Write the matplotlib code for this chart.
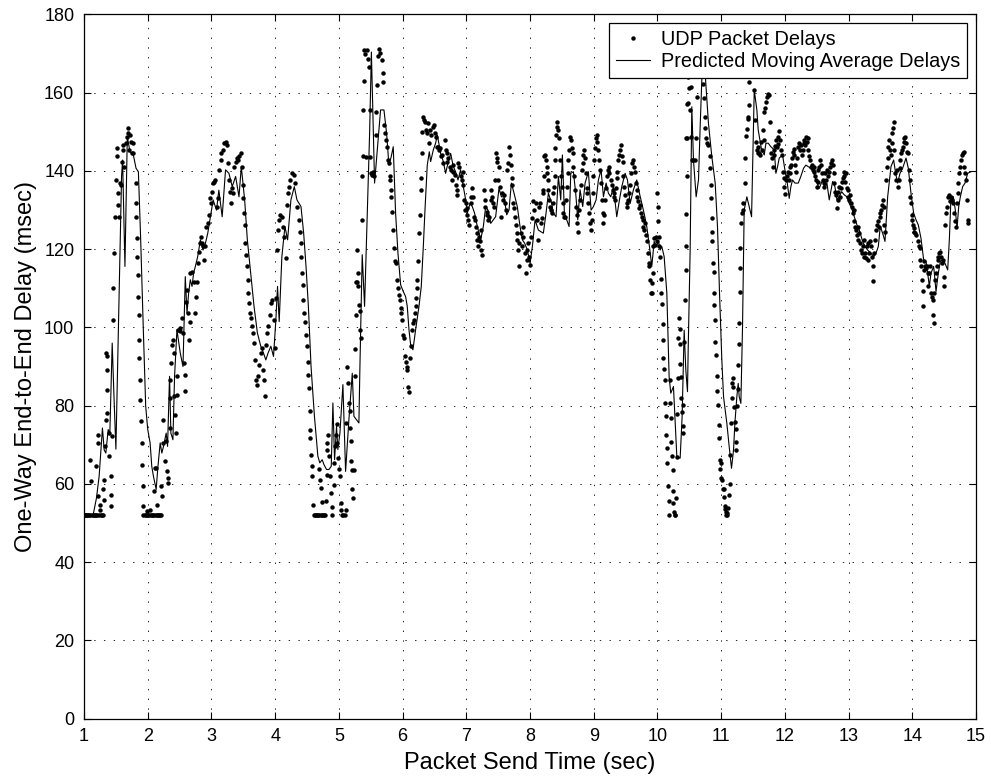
import numpy as np
import matplotlib.pyplot as plt

# one-way delay of each UDP packet (send time in s, delay in ms), in time order
pkt_t1 = [1.000, 1.012, 1.025, 1.037, 1.050, 1.062, 1.075, 1.087, 1.100, 1.116,
          1.130, 1.142, 1.155, 1.167, 1.180, 1.195, 1.205, 1.221, 1.221, 1.221,
          1.230, 1.247, 1.258, 1.265, 1.280, 1.290, 1.300, 1.311, 1.311, 1.326,
          1.342, 1.347, 1.353, 1.353, 1.358, 1.363, 1.395, 1.395, 1.416, 1.416,
          1.421, 1.432, 1.458, 1.458, 1.474, 1.484, 1.500, 1.511, 1.511, 1.526,
          1.537, 1.553, 1.563, 1.574, 1.589, 1.605, 1.616, 1.626, 1.658, 1.668,
          1.695, 1.695, 1.710, 1.720, 1.732, 1.747, 1.774, 1.774, 1.810, 1.816,
          1.816, 1.837, 1.837, 1.842, 1.853, 1.858, 1.863, 1.868, 1.879, 1.884,
          1.895, 1.905, 1.916, 1.921, 1.921, 1.930, 1.950, 1.970, 1.984, 1.995,
          2.010, 2.025, 2.037, 2.050, 2.065, 2.080, 2.100, 2.105, 2.116, 2.125,
          2.132, 2.140, 2.153, 2.165, 2.180, 2.195, 2.211, 2.215, 2.221]
pkt_d1 = [52, 52, 52, 52, 52, 52, 52, 52, 66.2, 60.7,
          52, 52, 52, 52, 52, 64.5, 52, 72.6, 70.5, 56.9,
          52, 54.7, 53.4, 52, 52, 52, 58.6, 61.1, 56.0, 69.6,
          76.4, 93.5, 78.1, 84.1, 92.6, 89.2, 73.0, 67.1, 62.0, 57.3,
          54.3, 72.2, 102.0, 110.0, 119.0, 128.3, 137.7, 143.7, 145.8, 134.3,
          131.3, 128.3, 136.9, 136.4, 142.4, 145.4, 146.6, 141.1, 147.1, 148.8,
          150.9, 149.6, 145.4, 149.2, 147.5, 144.5, 147.1, 144.5, 136.9, 131.7,
          128.3, 122.8, 118.1, 113.4, 107.9, 103.2, 96.9, 92.2, 86.6, 81.5,
          76.0, 70.5, 64.9, 59.4, 54.3, 52, 52, 52, 53.0, 52,
          52, 52, 53.4, 52, 52, 52, 58.1, 52, 64.1, 52,
          64.1, 52, 54.7, 52, 52, 52, 59.4, 52, 56.9]

pkt_t2 = [2.232, 2.247, 2.274, 2.289, 2.300, 2.316, 2.316, 2.342, 2.353, 2.353,
          2.368, 2.379, 2.395, 2.405, 2.416, 2.432, 2.442, 2.458, 2.458, 2.474,
          2.500, 2.510, 2.537, 2.553, 2.563, 2.589, 2.589, 2.605, 2.616, 2.626,
          2.642, 2.658, 2.668, 2.695, 2.720, 2.747, 2.763, 2.774, 2.784, 2.800,
          2.816, 2.837, 2.853, 2.868, 2.889, 2.905, 2.921, 2.942, 2.958, 2.974,
          2.995, 3.011, 3.026, 3.047, 3.063, 3.090, 3.100, 3.116, 3.142, 3.153,
          3.184, 3.195, 3.221, 3.247, 3.263, 3.274, 3.289, 3.311, 3.326, 3.342,
          3.353, 3.379, 3.395, 3.416, 3.437, 3.458, 3.474, 3.489, 3.500, 3.511,
          3.521, 3.532, 3.542, 3.558, 3.568, 3.579, 3.595, 3.605, 3.621, 3.637,
          3.658, 3.668, 3.679, 3.695, 3.711, 3.732, 3.753, 3.774, 3.795, 3.805,
          3.826, 3.847, 3.863, 3.879, 3.895, 3.911, 3.932, 3.953, 3.974, 3.995,
          4.011, 4.021, 4.037, 4.058, 4.079, 4.105, 4.126, 4.142, 4.163, 4.184,
          4.195, 4.216, 4.237, 4.268, 4.300, 4.316, 4.342, 4.368, 4.384, 4.400,
          4.411, 4.421, 4.432, 4.442, 4.458, 4.468, 4.489, 4.500, 4.510, 4.521,
          4.526, 4.542, 4.547, 4.553, 4.563, 4.574, 4.584, 4.600]
pkt_d2 = [76.4, 70.5, 65.8, 70.9, 63.2, 61.5, 60.3, 82.0, 74.3, 86.6,
          90.9, 95.6, 96.9, 93.5, 82.4, 77.7, 73.0, 87.5, 82.8, 99.4,
          99.8, 99.0, 102.4, 98.6, 90.9, 87.9, 83.7, 106.6, 109.6, 103.7,
          96.9, 101.5, 113.9, 114.3, 111.7, 103.7, 107.9, 111.7, 116.4, 119.4,
          121.5, 123.2, 121.5, 120.7, 117.3, 120.7, 125.8, 126.6, 128.8, 133.0,
          131.7, 134.7, 136.9, 137.3, 137.7, 130.9, 133.0, 140.3, 142.8, 144.5,
          145.4, 147.1, 147.5, 146.6, 142.0, 137.7, 134.7, 131.7, 135.6, 134.3,
          141.1, 142.4, 143.2, 142.8, 143.7, 144.5, 141.1, 136.4, 133.0, 129.2,
          126.2, 121.5, 118.6, 115.6, 112.2, 108.8, 106.2, 103.7, 102.4, 100.3,
          98.6, 96.0, 91.7, 86.6, 85.4, 87.5, 90.5, 93.5, 94.7, 89.2,
          86.6, 82.4, 95.6, 98.6, 100.3, 103.2, 106.2, 107.1, 102.0, 94.7,
          107.5, 119.8, 124.9, 127.5, 128.8, 128.3, 125.8, 123.2, 117.7, 131.3,
          134.3, 136.0, 137.7, 139.4, 139.0, 136.9, 130.9, 127.5, 124.5, 121.5,
          118.1, 113.9, 110.9, 107.1, 103.7, 101.5, 98.2, 95.2, 91.3, 87.9,
          84.5, 78.6, 73.9, 71.7, 67.5, 64.5, 62.0, 54.7]

pkt_t3 = [4.610, 4.625, 4.640, 4.655, 4.670, 4.686, 4.690, 4.700, 4.712, 4.720,
          4.735, 4.738, 4.750, 4.765, 4.780, 4.790, 4.806, 4.817, 4.817, 4.827,
          4.843, 4.859, 4.869, 4.885, 4.895, 4.920, 4.920, 4.932, 4.948, 4.963,
          4.974, 4.984, 5.000, 5.016, 5.026, 5.037, 5.050, 5.068, 5.089, 5.105,
          5.115, 5.131, 5.147, 5.157, 5.168, 5.173, 5.183, 5.194, 5.210, 5.210,
          5.225, 5.236, 5.246, 5.250, 5.262, 5.272, 5.278, 5.288, 5.298, 5.304,
          5.314, 5.325, 5.330, 5.340, 5.356, 5.367, 5.377, 5.382, 5.387, 5.400,
          5.414, 5.419, 5.440, 5.450, 5.466, 5.482, 5.487, 5.508, 5.524, 5.540,
          5.550, 5.576, 5.586, 5.597, 5.607, 5.623, 5.650, 5.675, 5.686, 5.690,
          5.707, 5.717, 5.733, 5.749, 5.770, 5.785, 5.801, 5.801, 5.812, 5.822,
          5.838, 5.853, 5.864, 5.880, 5.900, 5.916, 5.927, 5.942, 5.953, 5.969,
          5.980, 5.984, 6.005, 6.020, 6.037, 6.052, 6.063, 6.073, 6.084, 6.094,
          6.115, 6.126, 6.152, 6.168, 6.178, 6.194, 6.204, 6.210, 6.220, 6.230,
          6.240, 6.257, 6.267, 6.283, 6.293, 6.298, 6.309, 6.320]
pkt_d3 = [52, 52, 52, 52, 52, 63.7, 52, 61.1, 59.0, 52,
          52, 55.3, 52, 52, 52, 55.6, 62.4, 68.8, 70.5, 72.6,
          67.2, 62.1, 57.7, 54.1, 52, 59.7, 65.4, 69.6, 72.6, 75.2,
          70.5, 66.6, 63.7, 62.0, 55.2, 53.4, 52, 52, 52, 53.4,
          75.7, 90.0, 85.8, 80.7, 78.6, 74.3, 70.9, 65.8, 63.5, 58.6,
          56.4, 63.5, 87.5, 94.5, 103.2, 111.7, 119.8, 111.7, 110.5, 113.9,
          105.8, 104.1, 99.4, 97.3, 127.5, 138.7, 143.7, 155.7, 163.1, 171.0,
          169.8, 143.5, 170.8, 168.7, 166.7, 155.5, 143.5, 139.4, 139.0, 139.8,
          138.7, 149.2, 155.1, 161.9, 169.3, 171.2, 170.1, 168.3, 165.0, 162.7,
          151.7, 149.6, 147.9, 146.2, 142.8, 142.0, 138.6, 137.7, 135.1, 133.4,
          129.6, 124.9, 120.3, 116.9, 116.4, 112.2, 110.0, 108.3, 107.1, 104.9,
          103.7, 102.0, 98.1, 97.3, 92.6, 91.3, 90.0, 89.2, 84.9, 83.4,
          92.2, 95.2, 99.4, 101.1, 102.0, 103.7, 105.4, 107.5, 110.0, 112.2,
          116.9, 124.1, 128.8, 135.1, 138.1, 144.5, 150.0, 153.9]

pkt_t4 = [6.335, 6.350, 6.360, 6.377, 6.398, 6.413, 6.430, 6.450, 6.470, 6.492,
          6.508, 6.518, 6.534, 6.555, 6.570, 6.586, 6.607, 6.623, 6.640, 6.660,
          6.675, 6.690, 6.700, 6.717, 6.738, 6.754, 6.770, 6.785, 6.796, 6.817,
          6.832, 6.848, 6.859, 6.874, 6.890, 6.910, 6.927, 6.942, 6.953, 6.963,
          6.974, 6.990, 7.005, 7.016, 7.030, 7.047, 7.068, 7.078, 7.094, 7.110,
          7.120, 7.130, 7.147, 7.162, 7.173, 7.183, 7.200, 7.215, 7.225, 7.236,
          7.250, 7.277, 7.288, 7.300, 7.320, 7.330, 7.346, 7.360, 7.382, 7.393,
          7.410, 7.424, 7.435, 7.450, 7.460, 7.476, 7.487, 7.503, 7.513, 7.530,
          7.540, 7.555, 7.570, 7.592, 7.602, 7.618, 7.634, 7.654, 7.670, 7.686,
          7.696, 7.712, 7.723, 7.733, 7.749, 7.760, 7.775, 7.790, 7.800, 7.810,
          7.822, 7.832, 7.853, 7.870, 7.885, 7.895, 7.916, 7.932, 7.948, 7.958,
          7.974, 7.990, 8.000, 8.010, 8.030, 8.047, 8.063, 8.090, 8.115, 8.126,
          8.147]
pkt_d4 = [153.0, 152.6, 150.5, 149.6, 152.2, 147.1, 150.5, 149.2, 151.3, 151.7,
          149.6, 148.8, 146.2, 146.2, 145.4, 145.8, 143.7, 144.1, 142.0, 147.9,
          145.4, 144.5, 142.4, 143.2, 141.1, 140.3, 137.7, 141.5, 139.8, 139.0,
          136.4, 135.1, 133.9, 142.0, 141.1, 138.6, 137.7, 139.8, 136.4, 132.6,
          130.0, 131.7, 130.5, 128.8, 127.5, 126.2, 133.4, 131.7, 135.6, 133.4,
          128.3, 127.5, 125.8, 122.4, 124.1, 120.7, 123.2, 122.0, 124.9, 119.8,
          118.6, 135.1, 132.6, 130.9, 128.8, 129.6, 127.5, 128.3, 132.6, 135.1,
          133.4, 131.7, 130.9, 137.7, 144.5, 143.2, 142.4, 137.7, 141.1, 136.0,
          128.3, 134.3, 132.6, 133.9, 131.7, 130.0, 140.3, 142.0, 146.2, 144.1,
          141.5, 138.1, 136.4, 131.7, 130.5, 128.3, 126.2, 124.1, 122.4, 119.8,
          115.6, 121.5, 124.1, 120.7, 125.8, 123.2, 119.0, 113.9, 119.8, 117.3,
          121.5, 118.1, 116.0, 123.2, 127.9, 132.2, 130.0, 131.7, 127.5, 122.4,
          130.9]

pkt_t5 = [8.157, 8.168, 8.183, 8.199, 8.209, 8.220, 8.220, 8.236, 8.251, 8.262,
          8.272, 8.288, 8.288, 8.304, 8.314, 8.325, 8.340, 8.356, 8.366, 8.377,
          8.387, 8.393, 8.398, 8.408, 8.419, 8.430, 8.445, 8.460, 8.471, 8.487,
          8.497, 8.513, 8.524, 8.534, 8.550, 8.565, 8.576, 8.592, 8.602, 8.618,
          8.628, 8.639, 8.654, 8.670, 8.681, 8.696, 8.707, 8.723, 8.733, 8.743,
          8.760, 8.775, 8.785, 8.796, 8.812, 8.827, 8.838, 8.848, 8.864, 8.880,
          8.890, 8.900, 8.916, 8.932, 8.942, 8.953, 8.969, 8.984, 8.995, 9.005,
          9.021, 9.037, 9.047, 9.058, 9.073, 9.089, 9.100, 9.110, 9.126, 9.141,
          9.152, 9.162, 9.178, 9.194, 9.204, 9.220, 9.236, 9.246, 9.267, 9.283,
          9.298, 9.310, 9.325, 9.340, 9.350, 9.361, 9.372, 9.387, 9.403, 9.414,
          9.424, 9.440, 9.455, 9.466, 9.482, 9.497, 9.518, 9.529, 9.545, 9.560,
          9.571, 9.586, 9.602, 9.623, 9.639, 9.649, 9.665, 9.675, 9.686, 9.702,
          9.717, 9.728, 9.738, 9.754, 9.770, 9.780, 9.790, 9.806, 9.822, 9.832,
          9.848, 9.864, 9.874, 9.885, 9.895, 9.910, 9.921, 9.927, 9.937, 9.948,
          9.963, 9.980, 9.990, 10.000, 10.010, 10.016, 10.020, 10.031]
pkt_d5 = [131.7, 126.6, 127.9, 134.3, 135.2, 138.6, 143.7, 144.1, 142.8, 141.1,
          139.4, 137.7, 135.2, 132.6, 130.9, 130.0, 129.2, 131.7, 134.3, 136.0,
          138.6, 142.8, 145.8, 149.2, 152.6, 151.3, 150.5, 148.3, 142.8, 138.6,
          136.0, 131.7, 129.2, 128.3, 128.3, 132.6, 136.0, 139.4, 142.8, 145.4,
          148.8, 147.9, 145.8, 144.5, 141.1, 138.6, 135.2, 130.9, 128.8, 126.6,
          124.5, 130.0, 132.6, 136.4, 140.3, 142.0, 144.1, 145.4, 143.2, 139.4,
          135.6, 134.3, 131.7, 129.2, 126.6, 124.9, 127.5, 134.3, 138.6, 142.8,
          145.8, 148.3, 149.2, 147.5, 145.4, 142.8, 140.3, 136.9, 132.6, 129.2,
          126.6, 128.8, 132.6, 135.6, 138.6, 140.3, 141.1, 139.4, 137.7, 136.4,
          135.2, 134.3, 133.4, 132.6, 135.6, 138.1, 139.8, 142.8, 144.1, 145.4,
          146.6, 143.7, 142.4, 138.6, 136.0, 133.9, 131.7, 130.9, 132.6, 134.3,
          136.4, 139.4, 142.0, 142.8, 141.1, 139.8, 136.9, 135.2, 133.4, 132.2,
          130.5, 131.3, 129.2, 128.3, 127.5, 125.8, 124.9, 126.6, 123.7, 122.0,
          119.0, 116.5, 115.6, 112.2, 108.8, 111.3, 108.7, 113.9, 120.7, 122.8,
          121.1, 123.2, 122.0, 134.3, 130.9, 127.1, 123.2, 120.7]

pkt_t6 = [10.042, 10.052, 10.063, 10.073, 10.084, 10.089, 10.094, 10.105, 10.115, 10.120,
          10.131, 10.141, 10.147, 10.157, 10.168, 10.178, 10.183, 10.194, 10.199, 10.209,
          10.220, 10.225, 10.236, 10.240, 10.250, 10.262, 10.272, 10.283, 10.298, 10.304,
          10.314, 10.325, 10.330, 10.335, 10.346, 10.356, 10.356, 10.366, 10.377, 10.382,
          10.393, 10.398, 10.408, 10.419, 10.430, 10.445, 10.450, 10.450, 10.450, 10.460,
          10.470, 10.470, 10.480, 10.485, 10.500, 10.510, 10.520, 10.520, 10.540, 10.565,
          10.590, 10.610, 10.620, 10.710, 10.720, 10.730, 10.740, 10.750, 10.765, 10.785,
          10.800, 10.817, 10.827, 10.840, 10.840, 10.853, 10.853, 10.860, 10.870, 10.880,
          10.890, 10.890, 10.900, 10.910, 10.920, 10.942, 10.942, 10.953, 10.958, 10.969,
          10.980, 10.984, 10.995, 11.005, 11.020, 11.026, 11.037, 11.047, 11.058, 11.065,
          11.073, 11.080, 11.084, 11.090, 11.100, 11.126, 11.136, 11.140, 11.152, 11.162,
          11.168, 11.178, 11.188, 11.204, 11.215, 11.225, 11.236, 11.240, 11.246, 11.257,
          11.267, 11.272, 11.283, 11.288, 11.298, 11.300, 11.310, 11.325, 11.340, 11.350,
          11.370, 11.380, 11.390, 11.400, 11.414, 11.420, 11.430, 11.430, 11.508, 11.530]
pkt_d6 = [118.0, 112.3, 108.7, 106.1, 100.9, 96.9, 92.3, 89.4, 86.6, 80.8,
          77.4, 72.5, 69.1, 65.3, 59.5, 55.7, 52.0, 86.6, 80.6, 76.8,
          70.8, 67.2, 63.6, 58.3, 55.1, 52.9, 52.0, 52.0, 56.3, 67.0,
          77.9, 87.2, 97.2, 102.4, 99.5, 95.7, 90.6, 87.4, 82.1, 78.5,
          74.8, 72.9, 80.2, 96.3, 107.1, 114.8, 120.9, 129.0, 148.5, 138.7,
          148.3, 157.2, 157.3, 164.0, 161.3, 155.7, 161.5, 148.7, 142.8, 142.8,
          142.8, 148.3, 158.8, 166.2, 162.3, 158.6, 153.8, 150.9, 148.3, 147.1,
          146.6, 143.7, 140.7, 136.4, 133.0, 127.9, 124.5, 122.0, 116.6, 114.3,
          108.8, 105.8, 102.0, 96.4, 93.0, 87.7, 83.8, 80.2, 75.1, 71.7,
          66.1, 63.8, 65.3, 61.6, 61.0, 58.6, 56.6, 58.6, 54.4, 53.5,
          52.9, 52.0, 52.1, 52.5, 53.8, 57.2, 60.0, 67.4, 75.7, 82.0,
          85.7, 87.0, 84.9, 79.6, 75.9, 70.6, 68.7, 74.0, 79.9, 84.4,
          90.4, 95.9, 101.2, 109.1, 115.2, 120.3, 126.6, 129.2, 131.7, 130.0,
          136.9, 143.2, 148.9, 150.8, 153.4, 153.9, 162.7, 156.8, 160.7, 152.9]

pkt_t7 = [11.545, 11.560, 11.571, 11.581, 11.597, 11.613, 11.623, 11.634, 11.649, 11.665,
          11.676, 11.686, 11.702, 11.718, 11.738, 11.754, 11.770, 11.780, 11.790, 11.807,
          11.822, 11.833, 11.848, 11.859, 11.875, 11.885, 11.895, 11.911, 11.927, 11.937,
          11.948, 11.963, 11.979, 11.990, 12.000, 12.016, 12.031, 12.042, 12.058, 12.073,
          12.084, 12.094, 12.110, 12.120, 12.136, 12.147, 12.157, 12.173, 12.188, 12.200,
          12.215, 12.230, 12.250, 12.267, 12.283, 12.293, 12.304, 12.320, 12.335, 12.346,
          12.356, 12.366, 12.382, 12.398, 12.408, 12.424, 12.440, 12.450, 12.460, 12.476,
          12.492, 12.503, 12.513, 12.524, 12.540, 12.555, 12.565, 12.576, 12.592, 12.607,
          12.618, 12.634, 12.650, 12.660, 12.680, 12.696, 12.712, 12.723, 12.738, 12.754,
          12.764, 12.775, 12.790, 12.800, 12.810, 12.827, 12.838, 12.853, 12.870, 12.880,
          12.890, 12.906, 12.921, 12.932, 12.942, 12.958, 12.974, 12.984, 12.995, 13.010,
          13.026, 13.037, 13.047, 13.063, 13.079, 13.090, 13.100, 13.115, 13.131, 13.141,
          13.152, 13.168, 13.183, 13.194, 13.204, 13.220, 13.236, 13.246, 13.262, 13.277,
          13.288, 13.298, 13.309, 13.325, 13.340, 13.350, 13.360, 13.377, 13.387, 13.403,
          13.414, 13.430, 13.440, 13.455, 13.471, 13.487, 13.497, 13.508, 13.518, 13.534,
          13.550, 13.560, 13.571, 13.586, 13.597, 13.613, 13.623, 13.639, 13.654, 13.665,
          13.675, 13.686, 13.696, 13.707, 13.717, 13.728, 13.743, 13.760, 13.770, 13.785,
          13.800, 13.810, 13.822, 13.832, 13.848, 13.864, 13.874, 13.890, 13.906, 13.916,
          13.927, 13.942, 13.958, 13.969, 13.980, 13.990, 14.000, 14.010, 14.020, 14.031,
          14.047, 14.063, 14.084, 14.100, 14.115, 14.126, 14.136, 14.152, 14.162, 14.162,
          14.178, 14.188, 14.204, 14.215, 14.230, 14.240, 14.251, 14.267, 14.283, 14.293,
          14.304, 14.320, 14.330, 14.335, 14.346, 14.356, 14.372, 14.387, 14.398, 14.408,
          14.424, 14.440, 14.450, 14.460, 14.476, 14.492, 14.503, 14.513, 14.529, 14.545,
          14.555, 14.570, 14.586, 14.607, 14.623, 14.639, 14.660, 14.675, 14.690, 14.700,
          14.712, 14.723, 14.738, 14.754, 14.764, 14.775, 14.790, 14.806, 14.817, 14.827,
          14.843, 14.860, 14.869, 14.880]
pkt_d7 = [147.5, 145.4, 146.2, 144.7, 144.5, 144.1, 147.5, 145.4, 150.5, 147.9,
          155.1, 156.0, 157.7, 159.0, 159.8, 159.4, 152.6, 144.5, 143.3, 141.1,
          144.1, 145.4, 146.4, 147.9, 146.2, 146.9, 148.8, 150.1, 147.9, 145.4,
          144.1, 139.8, 138.1, 136.0, 134.1, 137.7, 138.6, 139.8, 137.7, 141.1,
          139.4, 141.5, 143.3, 144.9, 145.5, 144.1, 141.5, 139.8, 143.3, 146.2,
          147.1, 145.4, 146.6, 144.1, 145.4, 147.1, 147.9, 146.6, 148.8, 147.5,
          148.3, 145.4, 143.7, 142.8, 141.1, 141.5, 140.3, 141.1, 139.8, 138.6,
          137.7, 136.0, 137.3, 140.3, 141.1, 142.8, 141.5, 139.4, 137.7, 136.0,
          136.9, 139.4, 137.7, 140.3, 138.6, 139.8, 141.1, 142.0, 142.8, 141.5,
          139.4, 136.9, 134.7, 133.9, 130.5, 132.6, 134.7, 136.0, 133.4, 135.6,
          137.3, 138.1, 139.8, 138.6, 137.3, 139.4, 135.6, 133.4, 135.1, 132.6,
          133.9, 131.7, 130.9, 129.2, 130.0, 127.1, 125.8, 124.9, 123.7, 122.4,
          125.8, 124.1, 121.5, 119.8, 119.0, 120.7, 122.4, 118.1, 119.0, 117.7,
          120.7, 117.3, 121.5, 119.0, 122.0, 120.7, 118.1, 115.6, 111.8, 119.0,
          122.4, 124.9, 126.2, 127.1, 125.8, 128.3, 129.2, 130.0, 131.3, 132.6,
          130.9, 126.2, 124.5, 137.7, 141.1, 143.3, 146.2, 147.9, 145.4, 144.1,
          147.1, 149.6, 150.9, 152.6, 145.4, 139.4, 137.7, 140.3, 136.0, 137.7,
          140.7, 142.8, 144.5, 145.4, 146.2, 147.5, 148.3, 148.8, 147.1, 144.9,
          144.5, 140.3, 137.7, 133.4, 131.7, 128.8, 127.5, 126.2, 125.4, 124.5,
          124.1, 123.7, 122.0, 120.7, 120.3, 117.3, 115.6, 112.2, 109.2, 105.4,
          114.7, 116.9, 115.6, 115.2, 115.6, 113.9, 110.5, 113.9, 115.6, 108.8,
          107.9, 107.1, 103.2, 101.1, 108.8, 112.2, 113.9, 115.6, 117.3, 118.1,
          119.0, 119.4, 118.1, 116.4, 117.3, 113.0, 110.5, 126.2, 129.2, 130.9,
          133.4, 133.9, 132.2, 133.4, 132.6, 131.7, 129.2, 127.1, 125.8, 131.7,
          134.3, 136.9, 139.4, 141.1, 142.8, 144.1, 144.5, 144.9, 141.1, 139.4,
          137.7, 132.6, 127.5, 126.6]

# predicted moving average delay
avg_t = [1.000, 1.142, 1.195, 1.237, 1.289, 1.316, 1.342, 1.379, 1.405, 1.442,
         1.468, 1.500, 1.589, 1.605, 1.642, 1.679, 1.721, 1.774, 1.816, 1.853,
         1.889, 1.932, 1.968, 2.000, 2.037, 2.063, 2.089, 2.132, 2.158, 2.195,
         2.221, 2.247, 2.289, 2.311, 2.342, 2.363, 2.395, 2.421, 2.458, 2.510,
         2.553, 2.589, 2.616, 2.642, 2.668, 2.695, 2.720, 2.747, 2.784, 2.826,
         2.868, 2.905, 2.942, 2.984, 3.026, 3.079, 3.116, 3.168, 3.221, 3.274,
         3.326, 3.379, 3.432, 3.468, 3.521, 3.563, 3.616, 3.668, 3.721, 3.774,
         3.816, 3.853, 3.889, 3.932, 3.974, 4.011, 4.037, 4.063, 4.105, 4.153,
         4.195, 4.247, 4.300, 4.342, 4.405, 4.447, 4.484, 4.521, 4.563, 4.616,
         4.670, 4.700, 4.738, 4.764, 4.806, 4.843, 4.880, 4.906, 4.932, 4.963,
         4.984, 5.016, 5.063, 5.105, 5.157, 5.210, 5.236, 5.277, 5.314, 5.330,
         5.351, 5.366, 5.403, 5.482, 5.510, 5.560, 5.654, 5.707, 5.749, 5.785,
         5.822, 5.853, 5.890, 5.927, 5.969, 6.010, 6.047, 6.073, 6.100, 6.126,
         6.162, 6.204, 6.257, 6.293, 6.325, 6.351, 6.387, 6.419, 6.440, 6.482,
         6.518, 6.545, 6.597, 6.639, 6.675, 6.712, 6.754, 6.796, 6.832, 6.869,
         6.910, 6.953, 6.990, 7.016, 7.058, 7.094, 7.130, 7.173, 7.225, 7.267,
         7.304, 7.340, 7.382, 7.424, 7.460, 7.513, 7.550, 7.592, 7.634, 7.670,
         7.707, 7.749, 7.800, 7.843, 7.880, 7.916, 7.958, 8.000, 8.037, 8.079,
         8.131, 8.168, 8.209, 8.251, 8.288, 8.340, 8.366, 8.408, 8.445, 8.482,
         8.508, 8.539, 8.576, 8.613, 8.639, 8.681, 8.717, 8.749, 8.785, 8.827,
         8.864, 8.916, 8.958, 8.995, 9.037, 9.073, 9.115, 9.152, 9.194, 9.230,
         9.267, 9.309, 9.361, 9.403, 9.440, 9.492, 9.529, 9.571, 9.623, 9.675,
         9.717, 9.754, 9.790, 9.832, 9.874, 9.911, 9.948, 9.980, 10.016, 10.042,
         10.068, 10.105, 10.147, 10.183, 10.209, 10.251, 10.288, 10.304, 10.356, 10.387,
         10.419, 10.445, 10.471, 10.482, 10.513, 10.539, 10.565, 10.607, 10.644, 10.670,
         10.696, 10.720, 10.749, 10.800, 10.853, 10.906, 10.942, 10.974, 11.010, 11.037,
         11.089, 11.126, 11.162, 11.194, 11.215, 11.230, 11.246, 11.267, 11.283, 11.309,
         11.335, 11.361, 11.403, 11.440, 11.477, 11.519, 11.560, 11.581, 11.634, 11.676,
         11.702, 11.738, 11.780, 11.807, 11.833, 11.859, 11.885, 11.911, 11.937, 11.963,
         12.000, 12.031, 12.068, 12.094, 12.120, 12.157, 12.210, 12.250, 12.293, 12.330,
         12.366, 12.408, 12.450, 12.503, 12.540, 12.592, 12.628, 12.660, 12.696, 12.749,
         12.785, 12.817, 12.853, 12.890, 12.932, 12.974, 13.010, 13.047, 13.089, 13.131,
         13.168, 13.220, 13.257, 13.298, 13.350, 13.393, 13.430, 13.466, 13.497, 13.534,
         13.571, 13.613, 13.665, 13.707, 13.738, 13.770, 13.806, 13.848, 13.901, 13.937,
         13.979, 14.021, 14.058, 14.094, 14.136, 14.178, 14.215, 14.241, 14.267, 14.293,
         14.335, 14.372, 14.408, 14.440, 14.476, 14.513, 14.555, 14.581, 14.607, 14.644,
         14.675, 14.702, 14.728, 14.754, 14.790, 14.827, 14.869, 14.920]
avg_d = [52.0, 52.0, 56.4, 62.0, 74.3, 68.7, 67.9, 73.9, 73.0, 96.0,
         83.2, 68.9, 138.6, 142.8, 115.6, 148.8, 144.9, 144.1, 140.7, 139.8,
         122.4, 98.6, 79.8, 73.9, 70.5, 64.5, 62.0, 58.6, 64.1, 70.5,
         67.9, 69.6, 73.0, 69.6, 87.5, 73.0, 71.3, 87.5, 99.4, 93.5,
         90.0, 113.0, 103.7, 108.8, 112.2, 110.5, 113.9, 115.6, 118.1, 122.4,
         119.8, 121.5, 124.1, 128.3, 132.6, 130.0, 135.1, 128.3, 140.3, 139.4,
         136.0, 138.6, 133.4, 141.1, 132.6, 122.4, 113.9, 105.4, 98.6, 95.2,
         93.5, 91.7, 93.5, 95.2, 92.6, 102.0, 110.5, 101.5, 118.1, 125.8,
         122.4, 132.6, 136.0, 132.6, 130.9, 124.1, 115.6, 105.4, 90.0, 77.3,
         67.1, 65.4, 66.2, 65.0, 63.7, 63.7, 64.5, 80.7, 66.2, 74.7,
         68.8, 73.0, 85.4, 63.2, 76.4, 88.3, 77.3, 76.4, 75.6, 90.0,
         107.1, 118.6, 105.4, 149.6, 170.4, 136.9, 155.6, 155.6, 149.6, 141.5,
         143.7, 146.2, 129.2, 119.0, 110.9, 109.2, 107.9, 105.4, 99.4, 95.6,
         94.3, 99.4, 105.4, 110.5, 120.7, 130.0, 141.5, 144.9, 142.4, 145.4,
         147.1, 149.2, 144.5, 142.4, 139.4, 142.0, 144.5, 141.1, 139.8, 137.7,
         140.3, 136.0, 132.6, 129.2, 131.7, 130.9, 129.2, 125.8, 122.4, 125.8,
         130.9, 130.0, 126.6, 127.5, 128.3, 135.6, 133.4, 133.4, 128.8, 130.0,
         136.9, 134.3, 130.9, 125.8, 122.4, 121.5, 119.8, 116.4, 120.7, 127.5,
         124.9, 124.5, 124.1, 129.2, 134.3, 131.7, 129.2, 128.3, 138.6, 132.6,
         144.1, 129.2, 127.5, 125.8, 139.4, 139.8, 134.3, 127.5, 135.2, 130.9,
         136.9, 139.8, 130.0, 130.9, 132.6, 137.7, 140.3, 133.4, 136.9, 134.3,
         133.4, 136.0, 128.3, 132.6, 136.0, 139.4, 137.7, 131.7, 135.2, 137.7,
         134.3, 131.7, 129.2, 125.8, 120.7, 115.6, 122.0, 120.7, 122.0, 119.8,
         120.7, 118.1, 108.8, 87.4, 83.2, 84.9, 72.1, 67.0, 66.6, 77.2,
         99.3, 89.1, 83.6, 94.2, 119.7, 156.4, 142.8, 133.4, 137.7, 151.3,
         163.2, 172.0, 164.9, 152.2, 143.7, 136.9, 125.8, 108.8, 91.8, 82.3,
         75.5, 69.5, 64.0, 68.7, 75.5, 78.9, 82.3, 85.7, 82.3, 80.6,
         100.2, 130.0, 133.4, 130.9, 128.3, 160.7, 155.6, 150.5, 145.4, 144.1,
         147.1, 147.1, 146.2, 145.8, 145.4, 139.4, 141.1, 143.3, 143.7, 144.1,
         140.3, 137.7, 133.0, 136.0, 137.7, 136.9, 136.9, 138.6, 140.7, 141.5,
         141.1, 140.7, 139.8, 136.9, 135.6, 137.7, 135.6, 136.9, 132.6, 137.3,
         136.0, 132.6, 133.4, 134.7, 133.9, 133.4, 131.7, 130.5, 128.3, 126.2,
         124.9, 122.0, 120.7, 119.8, 119.0, 118.1, 119.0, 120.7, 125.8, 124.1,
         122.0, 133.4, 141.1, 142.8, 139.4, 136.9, 139.4, 140.7, 143.3, 140.7,
         134.3, 129.2, 127.5, 126.2, 122.8, 117.3, 116.9, 113.9, 110.5, 113.9,
         115.6, 109.2, 113.9, 116.9, 117.3, 116.4, 114.7, 122.4, 133.4, 133.4,
         130.0, 125.4, 130.9, 133.4, 136.0, 136.9, 139.4, 139.8]

pkt_t = np.concatenate([pkt_t1, pkt_t2, pkt_t3, pkt_t4, pkt_t5, pkt_t6, pkt_t7])
pkt_d = np.concatenate([pkt_d1, pkt_d2, pkt_d3, pkt_d4, pkt_d5, pkt_d6, pkt_d7])
assert len(pkt_t) == len(pkt_d), (len(pkt_t), len(pkt_d))
assert len(avg_t) == len(avg_d), (len(avg_t), len(avg_d))

plt.rcParams['font.family'] = ['Liberation Sans', 'DejaVu Sans']
plt.rcParams['lines.scale_dashes'] = False

fig = plt.figure(figsize=(9.91, 7.78), dpi=100)
ax = fig.add_axes([0.0848, 0.0762, 0.9001, 0.9052])

ax.plot(pkt_t, pkt_d, linestyle='none', marker='o', ms=3.2, mew=0, color='k',
        label='UDP Packet Delays')
ax.plot(avg_t, avg_d, color='k', lw=0.8, label='Predicted Moving Average Delays')

ax.set_xlim(1, 15)
ax.set_ylim(0, 180)
ax.set_xticks(np.arange(1, 16, 1))
ax.set_yticks(np.arange(0, 181, 20))
ax.grid(True, color='k', lw=0.6, linestyle=(0, (1.0, 6.0)))
ax.tick_params(direction='in', top=True, right=True, length=5, width=0.8,
               labelsize=13, pad=7)
for sp in ax.spines.values():
    sp.set_linewidth(0.9)

ax.set_xlabel('Packet Send Time (sec)', fontsize=17, labelpad=5)
ax.set_ylabel('One-Way End-to-End Delay (msec)', fontsize=17, labelpad=5)

leg = ax.legend(loc='upper right', fontsize=14.3, frameon=True, fancybox=False,
                edgecolor='k', framealpha=1, borderpad=0.35, labelspacing=0.15,
                handlelength=1.7, handletextpad=0.55, borderaxespad=0.45,
                markerscale=1.0)
leg.get_frame().set_linewidth(0.9)
leg.set_zorder(10)

fig.savefig('out.png', dpi=100)
